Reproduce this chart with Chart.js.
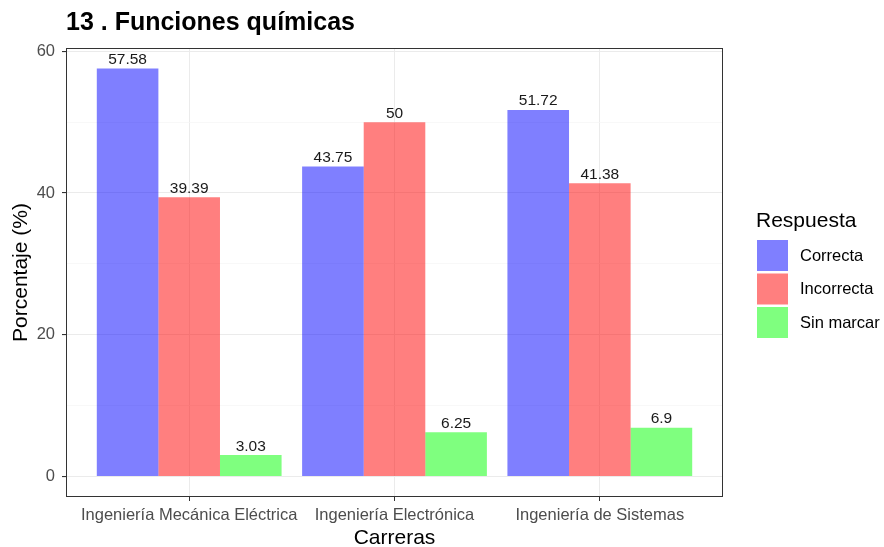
<!DOCTYPE html>
<html lang="es">
<head>
    <meta charset="UTF-8">
    <title>13 . Funciones químicas</title>
    <script src="https://cdn.jsdelivr.net/npm/chart.js"></script>
    <style>
        html, body { margin: 0; padding: 0; background: white; }
        .chart-wrapper { width: 884px; height: 547px; }
    </style>
</head>
<body>
    <div class="chart-wrapper">
        <canvas id="quimicaChart"></canvas>
    </div>

    <script>
        const carreras = ['Ingeniería Mecánica Eléctrica', 'Ingeniería Electrónica', 'Ingeniería de Sistemas'];
        const respuestas = ['Correcta', 'Incorrecta', 'Sin marcar'];
        const correcta = [57.58, 43.75, 51.72];
        const incorrecta = [39.39, 50, 41.38];
        const sinMarcar = [3.03, 6.25, 6.9];
        const yTicks = [0, 10, 20, 30, 40, 50, 60];
        const yLabels = [0, 20, 40, 60];

        const FONT = '"Liberation Sans", Arial, sans-serif';
        const colores = ['rgba(0,0,255,0.5)', 'rgba(255,0,0,0.5)', 'rgba(0,255,0,0.5)'];

        // panel edges (ggplot style layout)
        const panel = { left: 66, top: 48, right: 723, bottom: 497 };

        function serie(vals) {
            return vals.map((v, i) => ({ x: i + 1, y: v }));
        }

        // title, axis titles, value labels, panel border, legend
        const extras = {
            id: 'extras',
            afterDatasetsDraw(chart) {
                const ctx = chart.ctx;
                const area = chart.chartArea;
                ctx.save();

                // value labels above bars
                ctx.fillStyle = '#1a1a1a';
                ctx.font = '15.5px ' + FONT;
                ctx.textAlign = 'center';
                ctx.textBaseline = 'bottom';
                chart.data.datasets.forEach((ds, d) => {
                    chart.getDatasetMeta(d).data.forEach((bar, i) => {
                        ctx.fillText(String(ds.data[i].y), bar.x, bar.y - 1);
                    });
                });

                // panel border
                ctx.strokeStyle = '#333333';
                ctx.lineWidth = 1;
                ctx.strokeRect(area.left + 0.5, area.top + 0.5, area.right - area.left - 1, area.bottom - area.top - 1);

                // title
                ctx.fillStyle = '#000';
                ctx.font = 'bold 25px ' + FONT;
                ctx.textAlign = 'left';
                ctx.textBaseline = 'alphabetic';
                ctx.fillText('13 . Funciones químicas', area.left, 30);

                // axis titles
                ctx.font = '21px ' + FONT;
                ctx.textAlign = 'center';
                ctx.fillText('Carreras', (area.left + area.right) / 2, 544);
                ctx.save();
                ctx.translate(21, (area.top + area.bottom) / 2);
                ctx.rotate(-Math.PI / 2);
                ctx.textBaseline = 'middle';
                ctx.fillText('Porcentaje (%)', 0, 0);
                ctx.restore();

                // legend
                ctx.textAlign = 'left';
                ctx.font = '21px ' + FONT;
                ctx.fillText('Respuesta', 756, 227);
                ctx.font = '16.5px ' + FONT;
                ctx.textBaseline = 'middle';
                respuestas.forEach((r, i) => {
                    const y = 240 + i * 33.5;
                    ctx.fillStyle = colores[i];
                    ctx.fillRect(757, y, 31, 31);
                    ctx.fillStyle = '#000';
                    ctx.fillText(r, 800, y + 16);
                });
                ctx.restore();
            }
        };

        document.addEventListener('DOMContentLoaded', function() {
            const ctx = document.getElementById('quimicaChart').getContext('2d');
            new Chart(ctx, {
                type: 'bar',
                data: {
                    datasets: [
                        { label: respuestas[0], data: serie(correcta), backgroundColor: colores[0] },
                        { label: respuestas[1], data: serie(incorrecta), backgroundColor: colores[1] },
                        { label: respuestas[2], data: serie(sinMarcar), backgroundColor: colores[2] }
                    ]
                },
                options: {
                    responsive: true,
                    maintainAspectRatio: false,
                    animation: false,
                    categoryPercentage: 0.9,
                    barPercentage: 1,
                    layout: {
                        padding: { left: 0, top: panel.top, right: 884 - panel.right, bottom: 0 }
                    },
                    plugins: {
                        legend: { display: false },
                        tooltip: { enabled: false }
                    },
                    scales: {
                        x: {
                            type: 'linear',
                            min: 0.4,
                            max: 3.6,
                            offset: false,
                            grid: {
                                offset: false,
                                color: '#ebebeb',
                                tickColor: '#333333',
                                tickLength: 4
                            },
                            border: { display: false },
                            afterBuildTicks(scale) {
                                scale.ticks = carreras.map((c, i) => ({ value: i + 1 }));
                            },
                            afterFit(scale) {
                                scale.height = 547 - panel.bottom;
                            },
                            ticks: {
                                autoSkip: false,
                                maxRotation: 0,
                                padding: 5,
                                color: '#4d4d4d',
                                font: { family: FONT, size: 16.5 },
                                callback: (v) => carreras[v - 1]
                            }
                        },
                        y: {
                            min: -2.88,
                            max: 60.46,
                            grid: {
                                color: (c) => yLabels.includes(c.tick.value) ? '#ebebeb' : '#f5f5f5',
                                lineWidth: (c) => yLabels.includes(c.tick.value) ? 1.1 : 0.7,
                                tickColor: (c) => yLabels.includes(c.tick.value) ? '#333333' : 'rgba(0,0,0,0)',
                                tickLength: 4
                            },
                            border: { display: false },
                            afterBuildTicks(scale) {
                                scale.ticks = yTicks.map(v => ({ value: v }));
                            },
                            afterFit(scale) {
                                scale.width = panel.left;
                            },
                            ticks: {
                                padding: 7,
                                color: '#4d4d4d',
                                font: { family: FONT, size: 16.5 },
                                callback: (v) => yLabels.includes(v) ? v : ''
                            }
                        }
                    }
                },
                plugins: [extras]
            });
        });
    </script>
</body>
</html>
